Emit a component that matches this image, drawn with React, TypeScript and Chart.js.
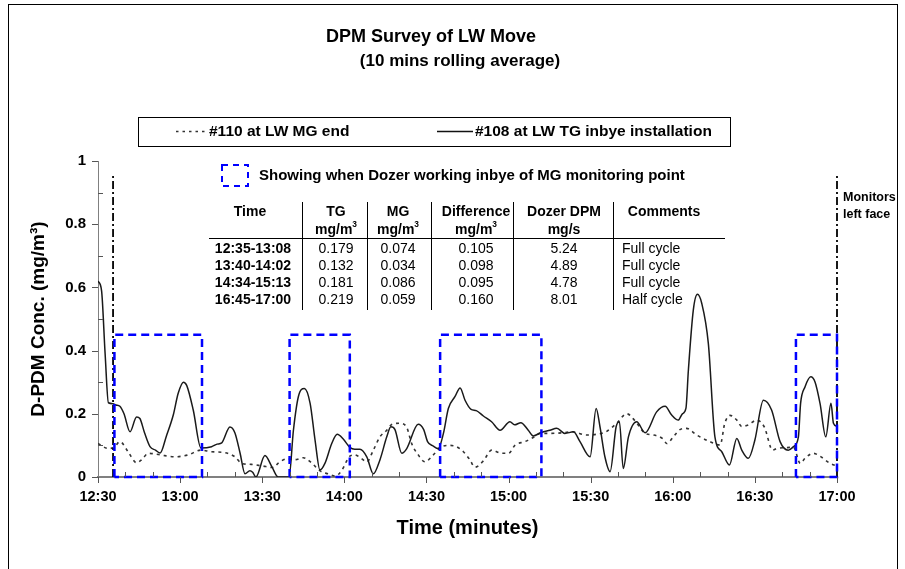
import { useEffect, useRef } from 'react';
import { Chart, registerables } from 'chart.js';

Chart.register(...registerables);

// ---- data (time in minutes after 12:30) ----
const tgTimes = [0, 1.3, 2.6, 3.8, 5.5, 6.5, 8, 9.5, 11.7, 14.1, 15.3, 17, 19, 21, 22.7, 25, 27.5, 29.3, 31.2, 32.4, 34.8, 37.6, 41.5, 43.5, 45.2, 48.2, 50, 51.9, 53.7, 55.5, 56.5, 57.7, 61, 63.5, 65.8, 69.8, 71.4, 73.2, 75.4, 77.5, 79.3, 81.1, 82.9, 85.4, 87.4, 89.6, 92, 93.8, 95.7, 98.2, 100.6, 103, 105.5, 107, 108.5, 111, 112.8, 117, 119, 120.4, 122.5, 124.3, 126.2, 128, 130.4, 132.3, 134.1, 136.3, 138.2, 140.8, 143.8, 146.9, 150.5, 152.2, 154.5, 157.2, 159, 162, 165.1, 167.6, 170.6, 173.7, 176.1, 179.8, 182, 183.4, 185.2, 187.1, 189.3, 190.5, 191.9, 193.8, 196.8, 199.9, 204.1, 207.2, 209.6, 212, 213.5, 214.8, 215.7, 217.5, 219, 220.6, 223, 225.4, 227.9, 230.7, 233.4, 235.2, 237.6, 240, 243.1, 246.1, 249.2, 252.2, 254.1, 255.9, 256.7, 258.3, 260.4, 262, 263.8, 265.9, 267.8, 268.7, 270];
const tgValues = [0.62, 0.59, 0.39, 0.235, 0.232, 0.228, 0.224, 0.2, 0.143, 0.19, 0.185, 0.14, 0.096, 0.085, 0.076, 0.13, 0.196, 0.265, 0.3, 0.29, 0.212, 0.092, 0.096, 0.104, 0.108, 0.158, 0.14, 0.076, 0.01, 0.02, 0.015, 0.0, 0.068, 0.033, 0.0, 0.0, 0.148, 0.254, 0.28, 0.233, 0.117, 0.022, 0.043, 0.106, 0.135, 0.12, 0.094, 0.088, 0.088, 0.064, 0.01, 0.054, 0.127, 0.159, 0.15, 0.075, 0.09, 0.167, 0.15, 0.112, 0.098, 0.09, 0.138, 0.217, 0.254, 0.282, 0.243, 0.214, 0.21, 0.193, 0.175, 0.148, 0.175, 0.165, 0.172, 0.148, 0.13, 0.141, 0.148, 0.154, 0.138, 0.143, 0.112, 0.064, 0.217, 0.159, 0.064, 0.017, 0.159, 0.175, 0.027, 0.127, 0.175, 0.14, 0.206, 0.224, 0.196, 0.18, 0.2, 0.217, 0.338, 0.528, 0.578, 0.549, 0.422, 0.127, 0.08, 0.038, 0.122, 0.085, 0.059, 0.117, 0.243, 0.212, 0.112, 0.085, 0.096, 0.127, 0.233, 0.285, 0.317, 0.3, 0.233, 0.127, 0.233, 0.17, 0.16];

const mgTimes = [0, 3.8, 6, 8, 11, 14.1, 16, 18.4, 22.7, 28, 33, 37.6, 41.5, 46.4, 50, 52.5, 56, 60, 64, 66, 69, 72, 75, 78, 81, 84, 86.6, 89, 92, 93.8, 96, 98.2, 100.6, 103, 105.5, 107.3, 110.3, 112.8, 114.6, 117, 119.5, 122.5, 125.6, 128, 130.4, 133.5, 135.9, 137.7, 140.8, 143.8, 147.5, 150, 152.4, 156, 159, 161.5, 165, 170, 173.3, 178.5, 182, 185.6, 189.5, 193.2, 196.2, 199.9, 202.9, 206.5, 207.8, 210.2, 212.6, 215, 218.7, 223.6, 227.3, 229, 230.9, 233.4, 235.2, 237.6, 240.6, 243.4, 246.5, 248, 251.7, 254.1, 256.6, 258.3, 261.3, 263.8, 267.5, 270];
const mgValues = [0.106, 0.09, 0.095, 0.112, 0.08, 0.045, 0.055, 0.075, 0.07, 0.064, 0.07, 0.085, 0.08, 0.077, 0.064, 0.043, 0.04, 0.035, 0.03, 0.045, 0.057, 0.055, 0.061, 0.045, 0.02, 0.01, 0.003, 0.02, 0.066, 0.07, 0.06, 0.048, 0.085, 0.127, 0.148, 0.166, 0.17, 0.157, 0.106, 0.07, 0.048, 0.07, 0.096, 0.1, 0.098, 0.08, 0.054, 0.031, 0.051, 0.085, 0.075, 0.075, 0.101, 0.112, 0.125, 0.138, 0.138, 0.14, 0.143, 0.133, 0.135, 0.143, 0.17, 0.2, 0.178, 0.138, 0.133, 0.12, 0.106, 0.127, 0.15, 0.154, 0.133, 0.112, 0.101, 0.17, 0.195, 0.18, 0.16, 0.165, 0.18, 0.159, 0.085, 0.09, 0.093, 0.094, 0.043, 0.059, 0.075, 0.066, 0.043, 0.035];

const xTickLabels = ['12:30', '13:00', '13:30', '14:00', '14:30', '15:00', '15:30', '16:00', '16:30', '17:00'];
const yTickLabels = ['0', '0.2', '0.4', '0.6', '0.8', '1'];

const dozerStarts = [6, 70, 125, 255];
const dozerEnds = [38, 92, 162, 270];
const dozerHeight = 0.45;

const monitorTimes = [5.5, 270];
const monitorTop = 0.955;

const seriesNames = ['#110 at LW MG end', '#108 at LW TG inbye installation'];
const dozerLegend = 'Showing when Dozer working inbye of MG monitoring point';

const tableTimes = ['12:35-13:08', '13:40-14:02', '14:34-15:13', '16:45-17:00'];
const tableTG = ['0.179', '0.132', '0.181', '0.219'];
const tableMG = ['0.074', '0.034', '0.086', '0.059'];
const tableDiff = ['0.105', '0.098', '0.095', '0.160'];
const tableDozer = ['5.24', '4.89', '4.78', '8.01'];
const tableComments = ['Full cycle', 'Full cycle', 'Full cycle', 'Half cycle'];

const FONT = '"Liberation Sans", Arial, sans-serif';

function drawMg3(ctx: CanvasRenderingContext2D, cx: number, y: number, size: number) {
  ctx.font = `bold ${size}px ${FONT}`;
  const w1 = ctx.measureText('mg/m').width;
  ctx.font = `bold ${size * 0.6}px ${FONT}`;
  const w2 = ctx.measureText('3').width;
  const start = cx - (w1 + w2) / 2;
  ctx.textAlign = 'left';
  ctx.font = `bold ${size}px ${FONT}`;
  ctx.fillText('mg/m', start, y);
  ctx.font = `bold ${size * 0.6}px ${FONT}`;
  ctx.fillText('3', start + w1, y - size * 0.35);
}

const decorPlugin = {
  id: 'decor',
  afterDraw(chart: any) {
    const ctx: CanvasRenderingContext2D = chart.ctx;
    const xs = chart.scales.x;
    const ys = chart.scales.y;
    ctx.save();

    // frame
    ctx.strokeStyle = '#000';
    ctx.lineWidth = 1;
    ctx.setLineDash([]);
    ctx.strokeRect(8.5, 4.5, 889, 620);

    // tick marks
    ctx.strokeStyle = '#555';
    ctx.lineWidth = 1;
    const x0 = xs.getPixelForValue(0);
    const yb = ys.getPixelForValue(0);
    for (let t = 0; t <= 270; t += 10) {
      const px = Math.round(xs.getPixelForValue(t)) + 0.5;
      ctx.beginPath();
      if (t % 30 === 0) {
        ctx.moveTo(px, yb);
        ctx.lineTo(px, yb + 6);
      } else {
        ctx.moveTo(px, yb);
        ctx.lineTo(px, yb - 5);
      }
      ctx.stroke();
    }
    for (let i = 0; i <= 10; i++) {
      const py = Math.round(ys.getPixelForValue(i / 10)) + 0.5;
      ctx.beginPath();
      if (i % 2 === 0) {
        ctx.moveTo(x0 - 6, py);
        ctx.lineTo(x0, py);
      } else {
        ctx.moveTo(x0, py);
        ctx.lineTo(x0 + 5, py);
      }
      ctx.stroke();
    }

    ctx.fillStyle = '#000';
    ctx.textBaseline = 'middle';

    // titles
    ctx.textAlign = 'center';
    ctx.font = `bold 18px ${FONT}`;
    ctx.fillText('DPM Survey of LW Move', 431, 37);
    ctx.font = `bold 17px ${FONT}`;
    ctx.fillText('(10 mins rolling average)', 460, 61);

    // series legend
    ctx.strokeStyle = '#000';
    ctx.lineWidth = 1;
    ctx.strokeRect(138.5, 117.5, 592, 29);
    ctx.strokeStyle = '#333';
    ctx.lineWidth = 1.5;
    ctx.setLineDash([2.5, 4]);
    ctx.beginPath();
    ctx.moveTo(176, 131.5);
    ctx.lineTo(208, 131.5);
    ctx.stroke();
    ctx.setLineDash([]);
    ctx.strokeStyle = '#111';
    ctx.beginPath();
    ctx.moveTo(437, 131.5);
    ctx.lineTo(473, 131.5);
    ctx.stroke();
    ctx.textAlign = 'left';
    ctx.font = `bold 15.5px ${FONT}`;
    ctx.fillText(seriesNames[0], 209, 132);
    ctx.fillText(seriesNames[1], 475, 132);

    // dozer legend
    ctx.strokeStyle = '#0000FF';
    ctx.lineWidth = 2;
    ctx.setLineDash([6, 5]);
    ctx.strokeRect(222, 165, 26, 21);
    ctx.setLineDash([]);
    ctx.font = `bold 15px ${FONT}`;
    ctx.fillText(dozerLegend, 259, 176);

    // table
    const cols = [250, 336, 398, 476, 564, 664];
    ctx.strokeStyle = '#000';
    ctx.lineWidth = 1;
    [302, 367, 431, 513, 613].forEach((sx) => {
      ctx.beginPath();
      ctx.moveTo(sx + 0.5, 202);
      ctx.lineTo(sx + 0.5, 310);
      ctx.stroke();
    });
    ctx.beginPath();
    ctx.moveTo(209, 238.5);
    ctx.lineTo(725, 238.5);
    ctx.stroke();
    ctx.textAlign = 'center';
    ctx.font = `bold 14px ${FONT}`;
    ctx.fillText('Time', cols[0], 212);
    ctx.fillText('TG', cols[1], 212);
    ctx.fillText('MG', cols[2], 212);
    ctx.fillText('Difference', cols[3], 212);
    ctx.fillText('Dozer DPM', cols[4], 212);
    ctx.fillText('Comments', cols[5], 212);
    drawMg3(ctx, cols[1], 230, 14);
    drawMg3(ctx, cols[2], 230, 14);
    drawMg3(ctx, cols[3], 230, 14);
    ctx.textAlign = 'center';
    ctx.font = `bold 14px ${FONT}`;
    ctx.fillText('mg/s', cols[4], 230);
    const rowY = [249, 266, 283, 300];
    for (let r = 0; r < 4; r++) {
      ctx.textAlign = 'center';
      ctx.font = `bold 14px ${FONT}`;
      ctx.fillText(tableTimes[r], 253, rowY[r]);
      ctx.font = `14px ${FONT}`;
      ctx.fillText(tableTG[r], cols[1], rowY[r]);
      ctx.fillText(tableMG[r], cols[2], rowY[r]);
      ctx.fillText(tableDiff[r], cols[3], rowY[r]);
      ctx.fillText(tableDozer[r], cols[4], rowY[r]);
      ctx.textAlign = 'left';
      ctx.fillText(tableComments[r], 622, rowY[r]);
    }

    // monitors note
    ctx.textAlign = 'left';
    ctx.font = `bold 12.5px ${FONT}`;
    ctx.fillText('Monitors', 843, 198);
    ctx.fillText('left face', 843, 215);

    ctx.restore();
  },
};

export default function App() {
  const ref = useRef<HTMLCanvasElement>(null);
  useEffect(() => {
    if (!ref.current) return;
    Chart.defaults.font.family = FONT;
    const boxSets = dozerStarts.map((s, i) => ({
      label: 'dozer' + i,
      data: [
        { x: s, y: 0 },
        { x: s, y: dozerHeight },
        { x: dozerEnds[i], y: dozerHeight },
        { x: dozerEnds[i], y: 0 },
        { x: s, y: 0 },
      ],
      borderColor: '#0000FF',
      borderWidth: 2.5,
      borderDash: [8, 5],
      pointRadius: 0,
      tension: 0,
      fill: false,
      clip: false as any,
    }));
    const monitorSets = monitorTimes.map((t, i) => ({
      label: 'monitor' + i,
      data: [
        { x: t, y: 0 },
        { x: t, y: monitorTop },
      ],
      borderColor: '#000',
      borderWidth: 1.8,
      borderDash: [8, 3, 2, 3],
      pointRadius: 0,
      tension: 0,
      fill: false,
      clip: false as any,
    }));
    const chart = new Chart(ref.current, {
      type: 'line',
      data: {
        datasets: [
          ...boxSets,
          ...monitorSets,
          {
            label: seriesNames[1],
            data: tgTimes.map((t, i) => ({ x: t, y: tgValues[i] })),
            borderColor: '#1a1a1a',
            borderWidth: 1.5,
            pointRadius: 0,
            cubicInterpolationMode: 'monotone',
            fill: false,
          },
          {
            label: seriesNames[0],
            data: mgTimes.map((t, i) => ({ x: t, y: mgValues[i] })),
            borderColor: '#333',
            borderWidth: 1.6,
            borderDash: [3, 4],
            pointRadius: 0,
            cubicInterpolationMode: 'monotone',
            fill: false,
          },
        ] as any,
      },
      options: {
        animation: false,
        responsive: false,
        devicePixelRatio: 1,
        layout: { padding: { left: 0, right: 68, top: 161, bottom: 0 } },
        plugins: { legend: { display: false }, tooltip: { enabled: false } },
        scales: {
          x: {
            type: 'linear',
            min: 0,
            max: 270,
            afterFit: (s: any) => {
              s.height = 92;
            },
            grid: { display: false, drawTicks: false },
            border: { display: true, color: '#808080', width: 2 },
            ticks: {
              stepSize: 10,
              autoSkip: false,
              maxRotation: 0,
              padding: 11,
              color: '#000',
              font: { size: 14.5, weight: 'bold', family: FONT },
              callback: (v: any) => (Math.round(v) % 30 === 0 ? xTickLabels[Math.round(v) / 30] : ''),
            },
            title: {
              display: true,
              text: 'Time (minutes)',
              color: '#000',
              font: { size: 20, weight: 'bold', family: FONT },
              padding: { top: 0, bottom: 29 },
            },
          },
          y: {
            min: 0,
            max: 1,
            afterFit: (s: any) => {
              s.width = 98;
            },
            grid: { display: false, drawTicks: false },
            border: { display: true, color: '#808080', width: 1 },
            ticks: {
              stepSize: 0.1,
              autoSkip: false,
              padding: 12,
              color: '#000',
              font: { size: 15, weight: 'bold', family: FONT },
              callback: (v: any) => {
                const k = Math.round(v * 10);
                return k % 2 === 0 ? yTickLabels[k / 2] : '';
              },
            },
            title: {
              display: true,
              text: 'D-PDM Conc. (mg/m³)',
              color: '#000',
              font: { size: 19, weight: 'bold', family: FONT },
              padding: { top: 27, bottom: 0 },
            },
          },
        },
      } as any,
      plugins: [decorPlugin],
    });
    return () => chart.destroy();
  }, []);
  return (
    <div style={{ position: 'absolute', left: 0, top: 0, width: 905, height: 569, background: '#fff' }}>
      <canvas ref={ref} width={905} height={569} style={{ display: 'block' }} />
    </div>
  );
}
